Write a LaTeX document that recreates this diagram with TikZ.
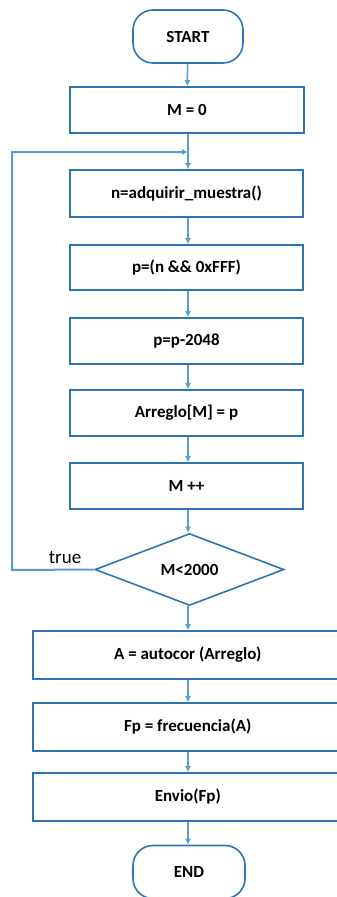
\documentclass[tikz,border=0pt]{standalone}
\usepackage{fontspec}
\setmainfont{Carlito}
\usetikzlibrary{shapes.geometric,arrows.meta}
\definecolor{boxblue}{RGB}{46,117,182}
\definecolor{arrblue}{RGB}{91,155,213}
\begin{document}
\begin{tikzpicture}[x=1pt,y=-1pt,
  box/.style={draw=boxblue,line width=1.6pt,fill=white,font=\bfseries\fontsize{17}{20}\selectfont},
  term/.style={box,rounded corners=20pt},
  wide/.style={box,anchor=west,minimum width=310pt,minimum height=48pt},
  arr/.style={draw=arrblue,line width=1.5pt,-{Latex[length=6pt,width=6pt]}}]
\useasboundingbox (0,0) rectangle (337,897);
\node[term,minimum width=110pt,minimum height=53pt] (start) at (188,36.5) {START};
\node[box,minimum width=234pt,minimum height=46pt] (m0) at (187,110) {M = 0};
\node[box,minimum width=233pt,minimum height=47pt] (n) at (186.5,193.5) {n=adquirir\_muestra()};
\node[box,minimum width=233pt,minimum height=45pt] (p1) at (186.5,267.5) {p=(n \&\& 0xFFF)};
\node[box,minimum width=233pt,minimum height=46pt] (p2) at (186.5,341) {p=p-2048};
\node[box,minimum width=233pt,minimum height=46pt] (arr) at (186.5,413) {Arreglo[M] = p};
\node[box,minimum width=233pt,minimum height=46pt] (mpp) at (186.5,486) {M ++};
\node[box,diamond,aspect=2.62,inner sep=0pt,minimum width=189pt,minimum height=72pt] (d) at (189.5,569.5) {M<2000};
\node[wide] (a) at (32,655) {A = autocor (Arreglo)};
\node[wide] (fp) at (32,727) {Fp = frecuencia(A)};
\node[wide] (env) at (32,797) {Envio(Fp)};
\node[term,minimum width=112pt,minimum height=53pt] (end) at (189,872) {END};
\coordinate (j) at (188,152);
\draw[arr] (start) -- (m0);
\draw[arr] (m0.south -| j) -- (n.north -| j);
\draw[arr,line width=2pt] (d.west) -- (12,570) -- (12,152) -- (j);
\node[font=\fontsize{19}{22}\selectfont,anchor=base] (t) at (65,563) {true};
\draw[arr] (n.south -| j) -- (p1.north -| j);
\draw[arr] (p1.south -| j) -- (p2.north -| j);
\draw[arr] (p2.south -| j) -- (arr.north -| j);
\draw[arr] (arr.south -| j) -- (mpp.north -| j);
\draw[arr] (mpp.south -| j) -- (d.north -| j);
\draw[arr] (d.south -| j) -- (a.north -| j);
\draw[arr] (a.south -| j) -- (fp.north -| j);
\draw[arr] (fp.south -| j) -- (env.north -| j);
\draw[arr] (env.south -| j) -- (end.north -| j);
\end{tikzpicture}
\end{document}
